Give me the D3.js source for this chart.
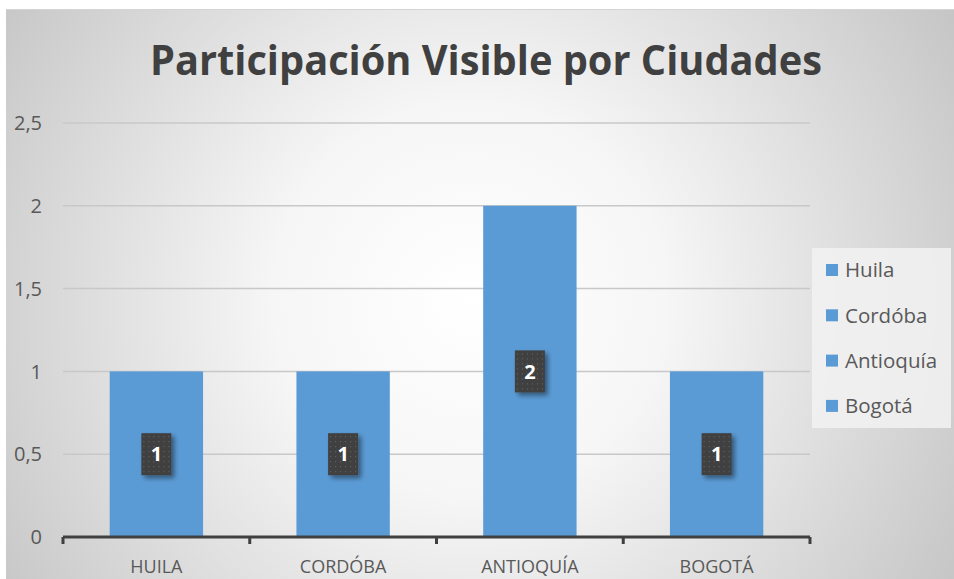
<!DOCTYPE html>
<html><head><meta charset="utf-8">
<script src="https://cdn.jsdelivr.net/npm/d3@7"></script>
<style>html,body{margin:0;padding:0;background:#fff;}svg{display:block;}</style>
</head><body>
<script>
const categories = ["HUILA", "CORDÓBA", "ANTIOQUÍA", "BOGOTÁ"];
const legendNames = ["Huila", "Cordóba", "Antioquía", "Bogotá"];
const values = [1, 1, 2, 1];
const yTicks = [0, 0.5, 1, 1.5, 2, 2.5];
const title = "Participación Visible por Ciudades";

(function () {
const W = 954, H = 579;
const svg = d3.select("body").append("svg").attr("width", W).attr("height", H);
const defs = svg.append("defs");
const rg = defs.append("radialGradient").attr("id", "bg")
  .attr("gradientUnits", "userSpaceOnUse").attr("cx", 470).attr("cy", 300).attr("r", 560);
rg.append("stop").attr("offset", "0").attr("stop-color", "#ffffff");
rg.append("stop").attr("offset", "0.35").attr("stop-color", "#f6f6f6");
rg.append("stop").attr("offset", "1").attr("stop-color", "#c6c6c6");
const pat = defs.append("pattern").attr("id", "dots").attr("patternUnits", "userSpaceOnUse")
  .attr("width", 5).attr("height", 5);
pat.append("rect").attr("width", 5).attr("height", 5).attr("fill", "#404040");
pat.append("rect").attr("x", 2).attr("y", 2).attr("width", 1).attr("height", 1).attr("fill", "#6a6a6a");
const f = defs.append("filter").attr("id", "sh").attr("x", "-50%").attr("y", "-50%").attr("width", "200%").attr("height", "200%");
f.append("feDropShadow").attr("dx", 3).attr("dy", 3).attr("stdDeviation", 2.5).attr("flood-color", "#000").attr("flood-opacity", 0.45);

svg.append("rect").attr("x", 6).attr("y", 9).attr("width", W - 6).attr("height", H - 9).attr("fill", "url(#bg)");
svg.append("line").attr("x1", 6).attr("x2", W).attr("y1", 9.5).attr("y2", 9.5).attr("stroke", "#d4d4d4");

const font = "'Open Sans', 'Noto Sans', sans-serif";
svg.append("text").attr("x", 486).attr("y", 75).attr("text-anchor", "middle")
  .attr("font-family", font).attr("font-weight", "bold").attr("font-size", 41)
  .attr("fill", "#404040").text(title)
  .attr("textLength", 672).attr("lengthAdjust", "spacingAndGlyphs");

const pLeft = 63, pRight = 810, pTop = 123, pBottom = 537;
const x = d3.scaleBand().domain(categories).range([pLeft, pRight]).paddingInner(0.5).paddingOuter(0.25);
const xb = d3.scaleBand().domain(categories).range([pLeft, pRight]);
const y = d3.scaleLinear().domain([0, 2.5]).range([pBottom, pTop]);

const g = svg.append("g");
g.selectAll(".grid").data(yTicks.slice(1)).join("line")
  .attr("x1", pLeft).attr("x2", pRight).attr("y1", d => y(d)).attr("y2", d => y(d))
  .attr("stroke", "#c8c8c8").attr("stroke-width", 1.5);

g.selectAll(".ylab").data(yTicks).join("text")
  .attr("x", 42).attr("y", d => y(d)).attr("dy", "0.36em").attr("text-anchor", "end")
  .attr("font-family", font).attr("font-size", 20).attr("fill", "#595959")
  .text(d => String(d).replace(".", ","));

g.selectAll(".bar").data(values).join("rect")
  .attr("x", (d, i) => x(categories[i])).attr("width", x.bandwidth())
  .attr("y", d => y(d)).attr("height", d => pBottom - y(d)).attr("fill", "#5b9bd5");

svg.append("line").attr("x1", pLeft).attr("x2", pRight).attr("y1", pBottom).attr("y2", pBottom)
  .attr("stroke", "#404040").attr("stroke-width", 3);
const bounds = categories.map(c => xb(c)).concat([pRight]);
svg.selectAll(".tk").data(bounds).join("line")
  .attr("x1", d => d).attr("x2", d => d).attr("y1", pBottom).attr("y2", pBottom + 7)
  .attr("stroke", "#404040").attr("stroke-width", 3);

svg.selectAll(".xlab").data(categories).join("text")
  .attr("x", d => xb(d) + xb.bandwidth() / 2).attr("y", 573).attr("text-anchor", "middle")
  .attr("font-family", font).attr("font-size", 18).attr("fill", "#595959").text(d => d);

const lab = svg.selectAll(".dl").data(values).join("g")
  .attr("transform", (d, i) => `translate(${x(categories[i]) + x.bandwidth() / 2},${(y(d) + pBottom) / 2})`);
lab.append("rect").attr("x", -15).attr("y", -21).attr("width", 30).attr("height", 42)
  .attr("fill", "url(#dots)").attr("filter", "url(#sh)");
lab.append("text").attr("text-anchor", "middle").attr("dy", "0.36em")
  .attr("font-family", font).attr("font-weight", "bold").attr("font-size", 20).attr("fill", "#fff")
  .text(d => d);

svg.append("rect").attr("x", 812).attr("y", 248).attr("width", 139).attr("height", 180)
  .attr("fill", "#f2f2f2").attr("opacity", 0.85);
const lg = svg.selectAll(".lg").data(legendNames).join("g")
  .attr("transform", (d, i) => `translate(826,${270 + i * 45.3})`);
lg.append("rect").attr("x", 0).attr("y", -6).attr("width", 12).attr("height", 12).attr("fill", "#5b9bd5");
lg.append("text").attr("x", 19).attr("dy", "0.36em").attr("font-family", font).attr("font-size", 20.5)
  .attr("fill", "#595959").text(d => d);
})();
</script>
</body></html>
